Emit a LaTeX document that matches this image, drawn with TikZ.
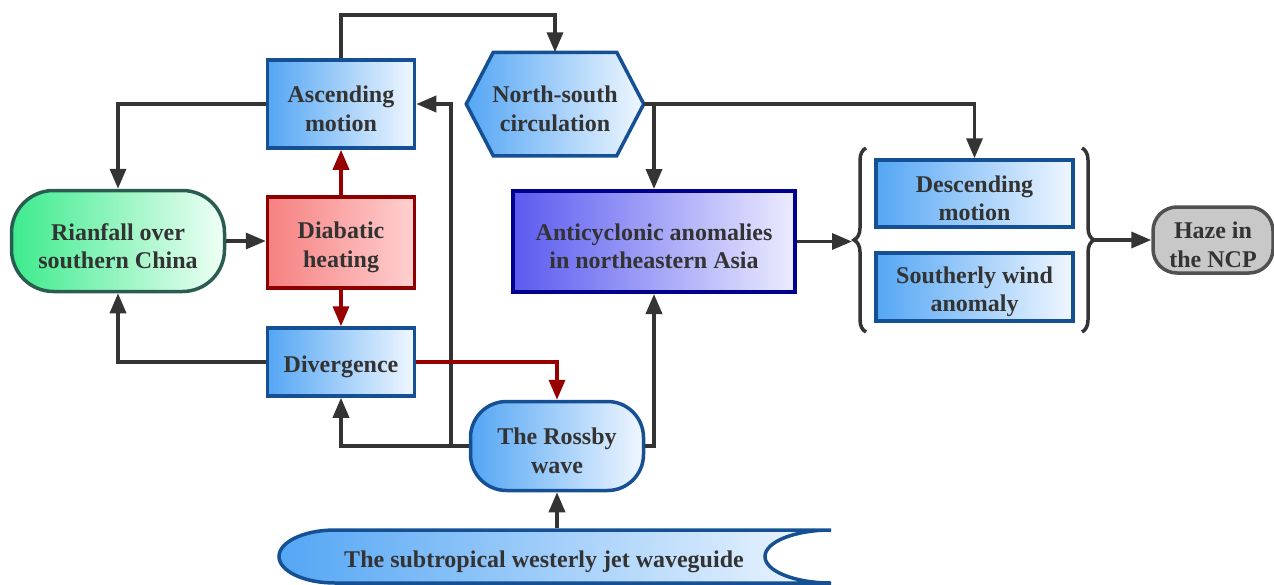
\documentclass[tikz,border=0pt]{standalone}
\usepackage{fontspec}
\setmainfont{Liberation Serif}
\usetikzlibrary{arrows.meta,calc,decorations.pathreplacing}
\definecolor{txt}{RGB}{51,51,51}
\definecolor{conn}{RGB}{52,52,52}
\definecolor{rconn}{RGB}{150,0,0}
\definecolor{bleft}{RGB}{84,166,244}
\definecolor{bright}{RGB}{240,247,255}
\definecolor{bborder}{RGB}{22,80,148}
\definecolor{gleft}{RGB}{60,235,140}
\definecolor{gright}{RGB}{240,255,246}
\definecolor{gborder}{RGB}{42,92,82}
\definecolor{rleft}{RGB}{246,128,128}
\definecolor{rright}{RGB}{255,208,208}
\definecolor{rborder}{RGB}{140,0,0}
\definecolor{aleft}{RGB}{90,90,240}
\definecolor{aright}{RGB}{236,236,255}
\definecolor{aborder}{RGB}{0,0,140}
\definecolor{hfill}{RGB}{200,200,200}
\definecolor{hborder}{RGB}{80,80,80}
\begin{document}
\begin{tikzpicture}[x=1pt,y=-1pt,
  box/.style={inner sep=0pt, line width=3.5pt},
  lbl/.style={inner sep=0pt, align=center, text=txt, font=\fontsize{24}{28.5}\selectfont\bfseries},
  bluebox/.style={box, draw=bborder, left color=bleft, right color=bright},
  arr/.style={draw=conn, line width=3.5pt, -{Triangle[length=20pt,width=16pt]}},
  redarr/.style={arr, draw=rconn},
  bracestyle/.style={draw=conn, line width=3.5pt, decorate, decoration={brace, amplitude=12pt}},
]
\useasboundingbox (0,0) rectangle (1274,584);

% waveguide band
\shadedraw[left color=bleft, right color=bright, draw=bborder, line width=3.5pt]
  (335,530) -- (831,530) arc[start angle=270, end angle=90, x radius=66, y radius=26.5]
  -- (335,583) arc[start angle=90, end angle=270, x radius=56, y radius=26.5] -- cycle;

% nodes
\node[bluebox, minimum width=147pt, minimum height=88pt] (asc) at (341,104) {};
\node[box, minimum width=174pt, minimum height=100pt] (ns) at (555,104) {};
\shadedraw[left color=bleft, right color=bright, draw=bborder, line width=3.5pt]
  (ns.west) -- ($(ns.north west)+(27,0)$) -- ($(ns.north east)+(-27,0)$) -- (ns.east)
  -- ($(ns.south east)+(-27,0)$) -- ($(ns.south west)+(27,0)$) -- cycle;
\node[box, draw=gborder, left color=gleft, right color=gright, rounded corners=42pt,
  minimum width=213pt, minimum height=101pt] (rain) at (118,241) {};
\node[box, draw=rborder, left color=rleft, right color=rright,
  minimum width=147pt, minimum height=91pt] (diab) at (341,242.5) {};
\node[bluebox, minimum width=147pt, minimum height=68pt] (div) at (341,362) {};
\node[bluebox, rounded corners=36pt, minimum width=173pt, minimum height=89pt] (ross) at (557,446) {};
\node[box, draw=aborder, line width=4pt, left color=aleft, right color=aright,
  minimum width=282pt, minimum height=101pt] (anti) at (654,241.5) {};
\node[bluebox, minimum width=197pt, minimum height=67pt] (desc) at (974.5,193.5) {};
\node[bluebox, minimum width=197pt, minimum height=68pt] (south) at (974.5,287) {};
\node[box, draw=hborder, fill=hfill, rounded corners=24pt,
  minimum width=120pt, minimum height=66pt] (haze) at (1213,240) {};
\node[box, minimum width=552pt, minimum height=53pt] (wg) at (544,556.5) {};

% texts
\node[lbl] (asc-t) at ($(asc)+(0,5)$) {Ascending\\motion};
\node[lbl] (ns-t) at ($(ns)+(0,5)$) {North-south\\circulation};
\node[lbl] (rain-t) at ($(rain)+(0,5)$) {Rianfall over\\southern China};
\node[lbl] (diab-t) at ($(diab)+(0,5)$) {Diabatic\\heating};
\node[lbl] (div-t) at ($(div)+(0,5)$) {Divergence};
\node[lbl] (ross-t) at ($(ross)+(0,5)$) {The Rossby\\wave};
\node[lbl] (anti-t) at ($(anti)+(0,5)$) {Anticyclonic anomalies\\in northeastern Asia};
\node[lbl] (desc-t) at ($(desc)+(0,5)$) {Descending\\motion};
\node[lbl] (south-t) at ($(south)+(0,5)$) {Southerly wind\\anomaly};
\node[lbl] (haze-t) at ($(haze)+(0,5)$) {Haze in\\the NCP};
\node[lbl] (wg-t) at ($(wg)+(0,5)$) {The subtropical westerly jet waveguide};

% braces
\draw[bracestyle] (866,332) -- (866,148);
\draw[bracestyle] (1082,148) -- (1082,332);
\coordinate (lb) at (852,240);
\coordinate (rb) at (1095,240);
\coordinate (topy) at (0,15);
\coordinate (vx) at (451,0);

% connectors
\draw[arr] (asc.north) -- (asc.north |- topy) -| (ns.north);
\draw[arr] (asc.west) -| (rain.north);
\draw[arr] (rain.east) -- (rain.east -| diab.west);
\draw[redarr] (diab.north) -- (asc.south);
\draw[redarr] (diab.south) -- (div.north);
\draw[arr] (div.west) -| (rain.south);
\draw[arr] (ross.west) -| (div.south);
\draw[arr] (ross.west -| vx) |- (asc.east);
\draw[redarr] (div.east) -| (ross.north);
\draw[arr] (ross.east) -| (anti.south);
\draw[arr] (ns.east) -| (desc.north);
\draw[arr] (ns.east -| anti.north) -- (anti.north);
\draw[arr] (anti.east) -- (anti.east -| lb);
\draw[arr] (rb) -- (rb -| haze.west);
\draw[arr] (ross.south |- wg.north) -- (ross.south);
\end{tikzpicture}
\end{document}
